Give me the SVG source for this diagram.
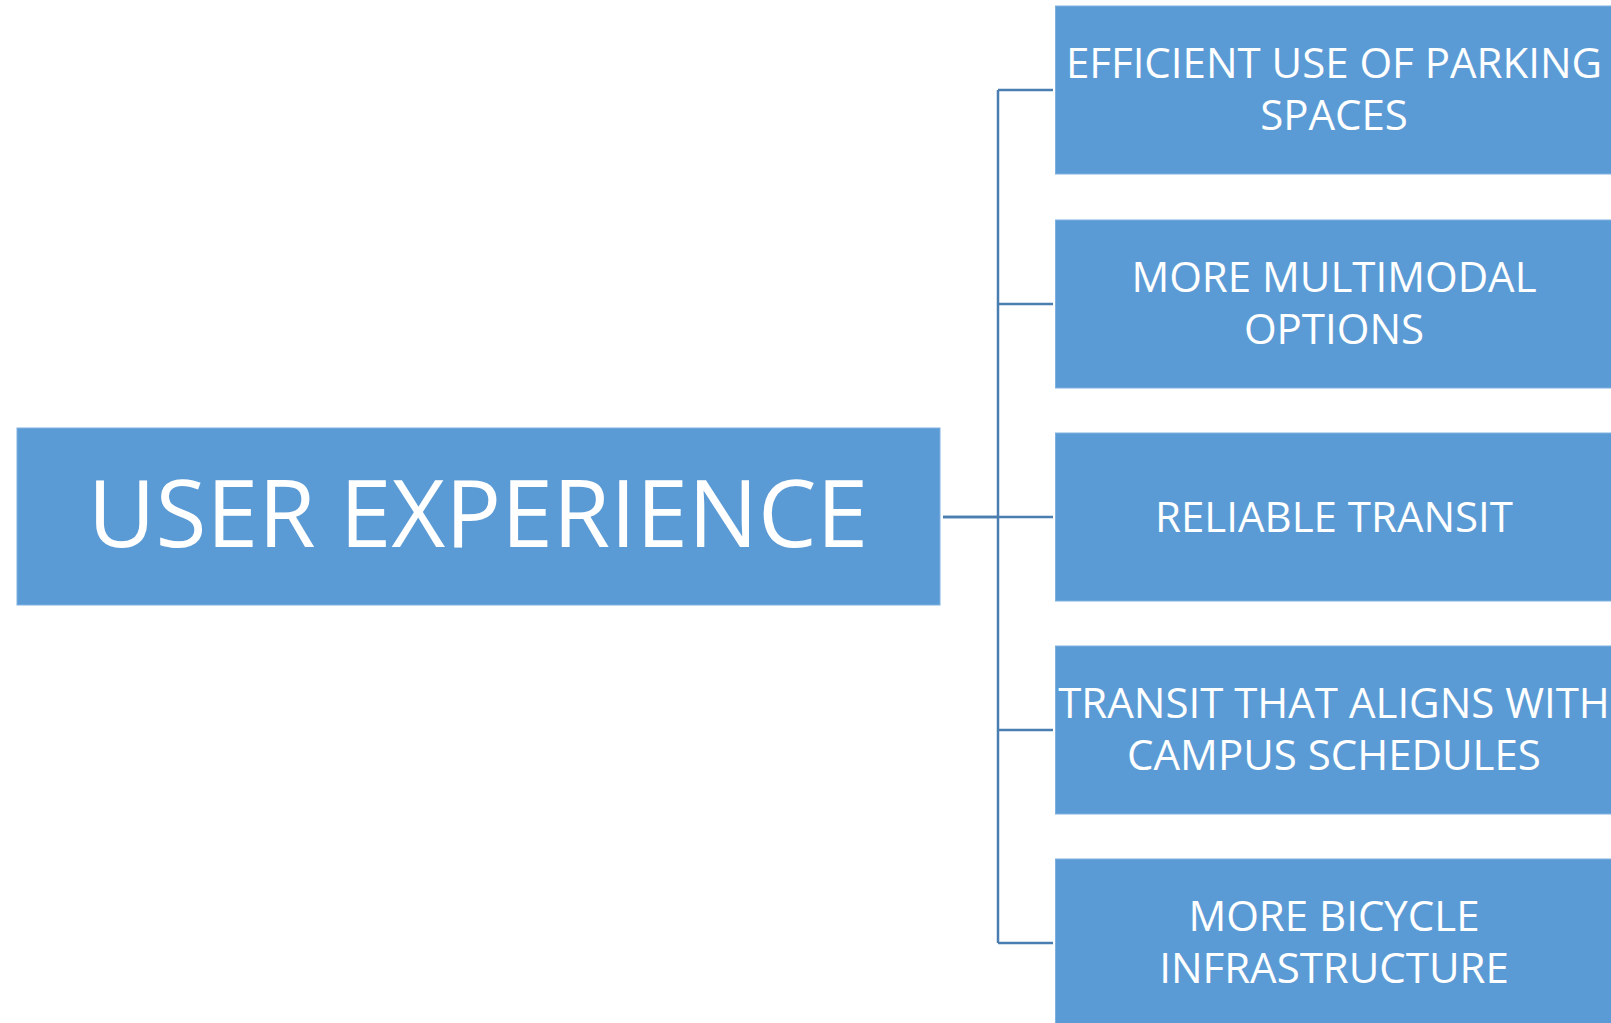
<svg xmlns="http://www.w3.org/2000/svg" width="1611" height="1023" viewBox="0 0 1611 1023">
<style>
.box{fill:#5B9BD5;stroke:#7FB1E0;stroke-width:1}
.t{font-family:"Open Sans","Liberation Sans",sans-serif;fill:#fff;text-anchor:middle;font-size:42px}
.main{font-size:93px}
.c{fill:none;stroke:#4A7EB0;stroke-width:2.5}
</style>
<rect width="1611" height="1023" fill="#fff"/>
<g id="connectors">
<path class="c" d="M943 517H1053M998 90V943M998 90H1053M998 304H1053M998 730H1053M998 943H1053"/>
<path class="c" d="M943 517H998" stroke-width="3.5"/>
</g>
<g id="user-experience">
<rect class="box" x="17" y="428" width="923" height="177"/>
<text class="t main" x="478" y="547">USER EXPERIENCE</text>
</g>
<g id="parking">
<rect class="box" x="1055.5" y="6" width="560" height="168"/>
<text class="t" x="1334" y="78">EFFICIENT USE OF PARKING</text>
<text class="t" x="1334" y="130">SPACES</text>
</g>
<g id="multimodal">
<rect class="box" x="1055.5" y="220" width="560" height="168"/>
<text class="t" x="1334" y="292">MORE MULTIMODAL</text>
<text class="t" x="1334" y="344">OPTIONS</text>
</g>
<g id="reliable">
<rect class="box" x="1055.5" y="433" width="560" height="168"/>
<text class="t" x="1334" y="532">RELIABLE TRANSIT</text>
</g>
<g id="schedules">
<rect class="box" x="1055.5" y="646" width="560" height="168"/>
<text class="t" x="1334" y="718">TRANSIT THAT ALIGNS WITH</text>
<text class="t" x="1334" y="770">CAMPUS SCHEDULES</text>
</g>
<g id="bicycle">
<rect class="box" x="1055.5" y="859" width="560" height="170"/>
<text class="t" x="1334" y="931">MORE BICYCLE</text>
<text class="t" x="1334" y="983">INFRASTRUCTURE</text>
</g>
</svg>
